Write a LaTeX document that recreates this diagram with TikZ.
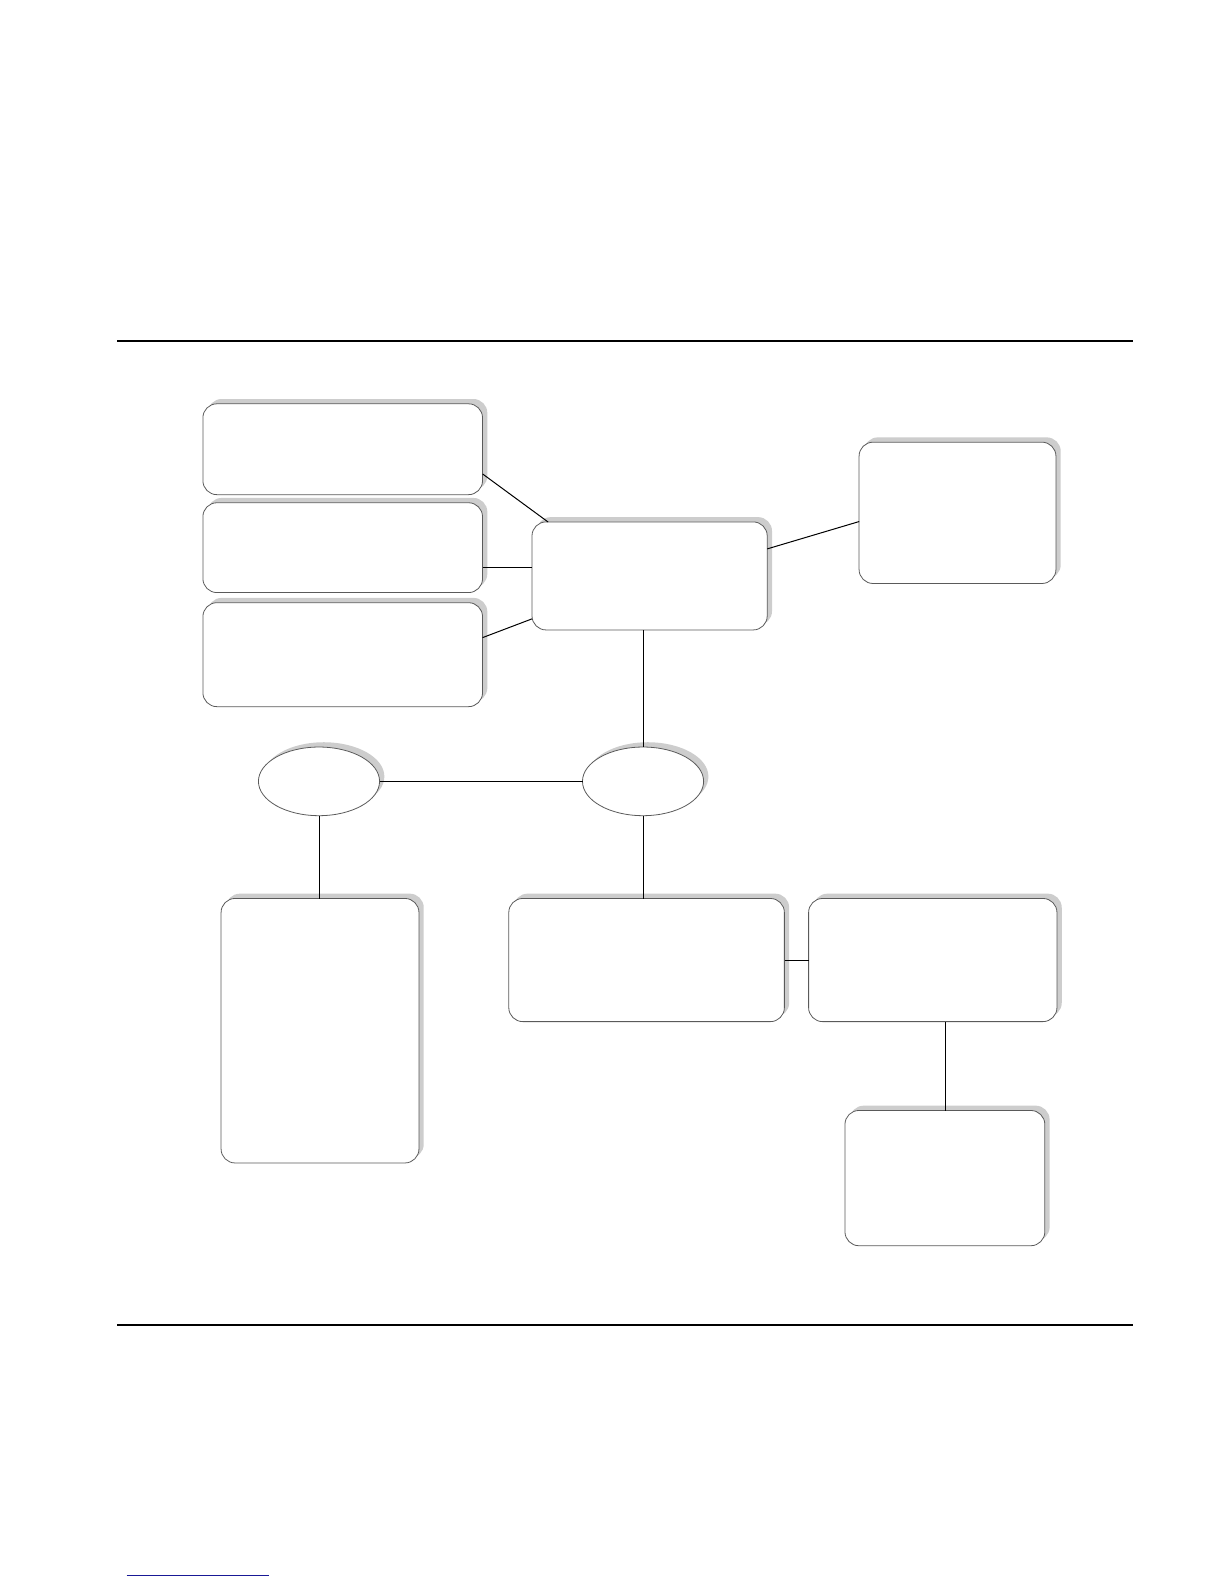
\documentclass[tikz,border=0pt]{standalone}
\usepackage{tikz}
\usetikzlibrary{shapes.geometric,shadows}

\definecolor{rimgray}{RGB}{90,90,90}
\definecolor{shadegray}{RGB}{205,205,205}
\definecolor{linkblue}{RGB}{25,25,150}

\begin{document}
\begin{tikzpicture}[
x=0.5bp, y=-0.5bp, scale=1.0095, every node/.style={transform shape},
roundbox/.style={rectangle, rounded corners=7bp, draw=rimgray, thin, fill=white,
  inner sep=0pt, outer sep=0pt,
  drop shadow={shadow xshift=2.4bp, shadow yshift=2.4bp, fill=shadegray, opacity=1}},
ovalnode/.style={ellipse, draw=rimgray, thin, fill=white, inner sep=0pt, outer sep=0pt,
  minimum width=60bp, minimum height=34bp,
  drop shadow={shadow xshift=2.4bp, shadow yshift=2.4bp, fill=shadegray, opacity=1}},
link/.style={draw=black, line width=0.5bp},
rule/.style={draw=black, line width=1bp},
]
%Rules
\coordinate (topleft) at (116,338);
\coordinate (topright) at (1122,338);
\coordinate (botleft) at (116,1312);
\coordinate (botright) at (1122,1312);
\coordinate (urlleft) at (125.5,1560.5);
\coordinate (urlright) at (266.2,1560.5);
\draw[rule](topleft) -- (topright);
\draw[rule](botleft) -- (botright);
\draw[draw=linkblue, line width=0.9bp](urlleft) -- (urlright);

%Nodes
\node[roundbox, minimum width=138.5bp, minimum height=45bp](src1) at (339.5,445){};
\node[roundbox, minimum width=138.5bp, minimum height=44.5bp](src2) at (339.5,542.5){};
\node[roundbox, minimum width=138.5bp, minimum height=51.5bp](src3) at (339.5,648.5){};
\node[roundbox, minimum width=116.5bp, minimum height=53.5bp](hub) at (643.5,570.5){};
\node[roundbox, minimum width=97.5bp, minimum height=70bp](side) at (948.5,508){};
\node[ovalnode](leftoval) at (316,774){};
\node[ovalnode](rightoval) at (637,774){};
\node[roundbox, minimum width=98bp, minimum height=131bp](tall) at (317,1021){};
\node[roundbox, minimum width=136.5bp, minimum height=61bp](mid) at (640.5,951){};
\node[roundbox, minimum width=123bp, minimum height=61bp](right) at (924,951){};
\node[roundbox, minimum width=99bp, minimum height=67bp](bottom) at (936,1167){};

%Connectors
\draw[link](src1.-10) -- (hub.152.4);
\draw[link](src2.-8.4) -- (src2.-8.4 -| hub.west);
\draw[link](src3.7.6) -- (hub.200.5);
\draw[link](hub.13.7) -- (side.185.3);
\draw[link](rightoval.north) -- (rightoval.north |- hub.south);
\draw[link](leftoval.east) -- (rightoval.west);
\draw[link](leftoval.south) -- (leftoval.south |- tall.north);
\draw[link](rightoval.south) -- (rightoval.south |- mid.north);
\draw[link](mid.east) -- (right.west);
\draw[link](bottom.north) -- (bottom.north |- right.south);

\pgfresetboundingbox
\useasboundingbox (0,0) rectangle (1212.5,1569.1);
\end{tikzpicture}
\end{document}
